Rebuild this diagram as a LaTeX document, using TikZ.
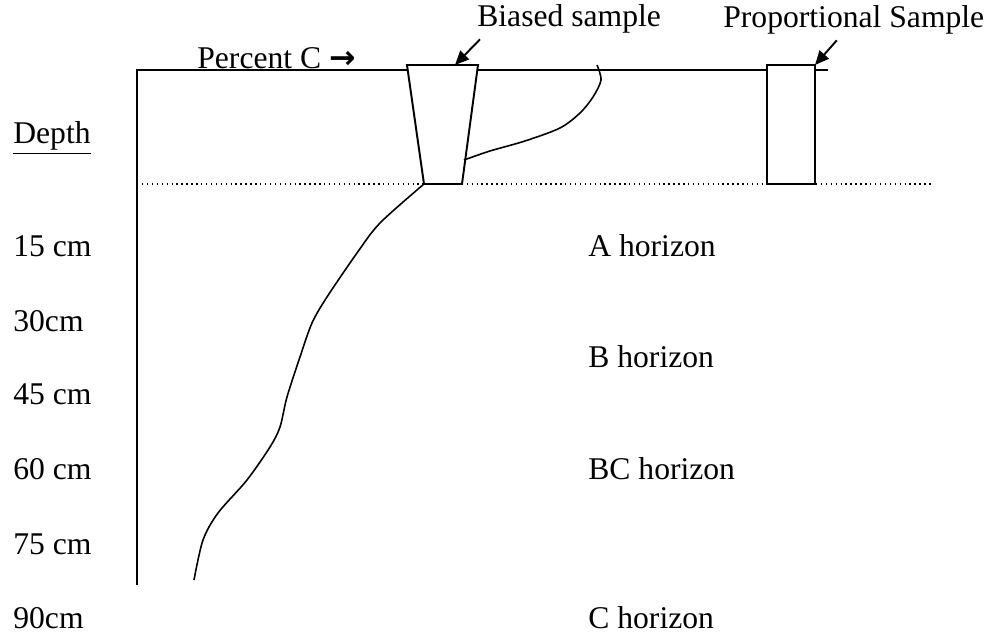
\documentclass[tikz,border=0pt]{standalone}
\usepackage{fontspec}
\setmainfont{Liberation Serif}
\newfontfamily\arrowfont{DejaVu Sans}
\usetikzlibrary{arrows.meta}
\begin{document}
\begin{tikzpicture}[x=0.02cm,y=-0.02cm,
  lbl/.style={anchor=base west,inner sep=0pt,text depth=0pt,font=\fontsize{18}{21}\selectfont},
  pointer/.style={-{Triangle[length=8pt,width=7pt]},line width=1.1pt}]
\useasboundingbox (0,0) rectangle (992,634);
% frame and horizon boundary
\draw[line width=1.1pt] (137,585) -- (137,70) -- (828,70);
\draw[dotted,line width=0.8pt] (142,184) -- (932,184);
% the two samples
\draw[line width=1.1pt,fill=white] (407,65) -- (478,65) -- (462,184) -- (424,184) -- cycle;
\draw[line width=1.1pt,fill=white] (767,65) rectangle (815,184);
\coordinate (btip) at (455,65);
\coordinate (ptip) at (815,65);
% carbon profiles
\draw[line width=0.9pt] plot[smooth] coordinates {(464,160) (490,151) (525,141) (560,128) (580,113) (593,97) (601,80) (597,65)};
\draw[line width=0.9pt] plot[smooth] coordinates {(424,184) (380,223) (357,253) (327,297) (312,323) (300,357) (287,397) (280,427) (270,447) (247,480) (218,513) (203,540) (194,580)};
% labels
\node[lbl] (pc) at (197,69) {Percent C {\arrowfont\bfseries\char"2192}};
\node[lbl] (biased) at (477,27) {Biased sample};
\node[lbl] (prop) at (723,28) {Proportional Sample};
\node[lbl] (depth) at (13,144) {\underline{Depth}};
\foreach \t/\y [count=\i] in {15 cm/257,30cm/332,45 cm/405,60 cm/480,75 cm/555,90cm/629}
{
	\node[lbl] (d\i) at (13,\y) {\t};
}
\foreach \t/\y [count=\i] in {A/257,B/368,BC/480,C/629}
{
	\node[lbl] (h\i) at (588,\y) {\t{} horizon};
}
\draw[pointer] (biased.south west) ++(3,12) -- (btip);
\draw[pointer] (prop.south) ++(-17,12) -- (ptip);
\end{tikzpicture}
\end{document}
